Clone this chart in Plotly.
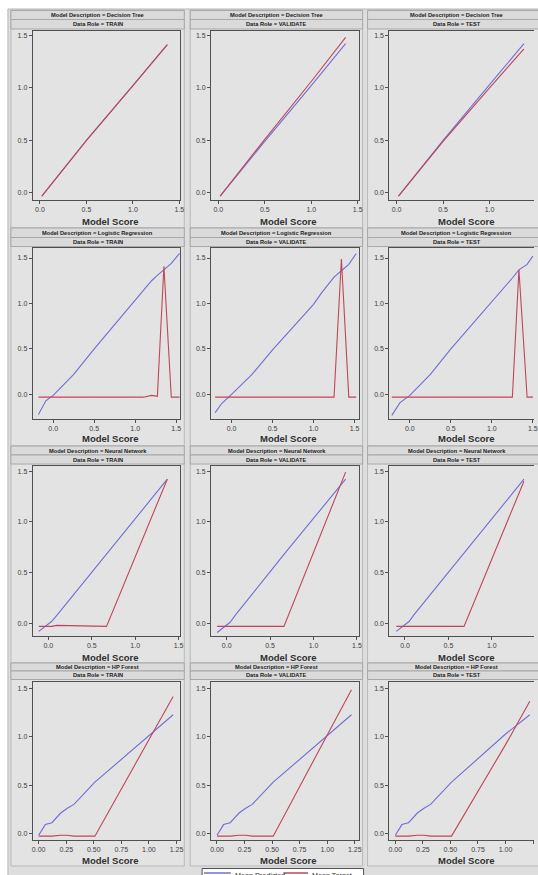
import plotly.graph_objects as go

W, H = 538, 875

models = ["Decision Tree", "Logistic Regression", "Neural Network", "HP Forest"]
roles = ["TRAIN", "VALIDATE", "TEST"]

# ---- Decision Tree ----
dt_train_score = [0.02, 0.50, 1.00, 1.37]
dt_train_pred = [-0.03, 0.50, 1.02, 1.41]
dt_train_target = [-0.03, 0.50, 1.02, 1.41]
dt_val_score = [0.02, 0.50, 1.00, 1.37]
dt_val_pred = [-0.03, 0.49, 1.02, 1.42]
dt_val_target = [-0.03, 0.51, 1.06, 1.48]
dt_test_score = [0.02, 0.50, 1.00, 1.37]
dt_test_pred = [-0.03, 0.50, 1.03, 1.42]
dt_test_target = [-0.03, 0.49, 1.00, 1.37]

# ---- Logistic Regression ----
lr_train_score = [-0.18, -0.09, 0.00, 0.25, 0.50, 0.75, 1.00, 1.10, 1.20, 1.27, 1.35, 1.44, 1.54]
lr_train_pred = [-0.22, -0.07, -0.01, 0.22, 0.50, 0.77, 1.03, 1.14, 1.25, 1.31, 1.37, 1.44, 1.55]
lr_train_target = [-0.03, -0.03, -0.03, -0.03, -0.03, -0.03, -0.03, -0.03, -0.01, -0.02, 1.41, -0.03, -0.03]
lr_val_score = [-0.20, -0.12, 0.00, 0.25, 0.50, 0.75, 1.00, 1.10, 1.20, 1.25, 1.34, 1.43, 1.52]
lr_val_pred = [-0.20, -0.10, 0.00, 0.22, 0.49, 0.74, 0.99, 1.12, 1.24, 1.29, 1.36, 1.43, 1.55]
lr_val_target = [-0.03, -0.03, -0.03, -0.03, -0.03, -0.03, -0.03, -0.03, -0.03, -0.03, 1.49, -0.03, -0.03]
lr_test_score = [-0.22, -0.12, 0.00, 0.25, 0.50, 0.75, 1.00, 1.10, 1.20, 1.25, 1.33, 1.43, 1.50]
lr_test_pred = [-0.23, -0.09, -0.01, 0.22, 0.50, 0.76, 1.01, 1.12, 1.23, 1.28, 1.37, 1.43, 1.52]
lr_test_target = [-0.03, -0.03, -0.03, -0.03, -0.03, -0.03, -0.03, -0.03, -0.03, -0.03, 1.37, -0.03, -0.03]

# ---- Neural Network ----
nn_train_score = [-0.11, 0.04, 0.10, 0.67, 1.37]
nn_train_pred = [-0.08, 0.02, 0.08, 0.68, 1.42]
nn_train_target = [-0.03, -0.03, -0.02, -0.03, 1.42]
nn_val_score = [-0.11, 0.04, 0.10, 0.66, 1.37]
nn_val_pred = [-0.09, 0.01, 0.08, 0.68, 1.42]
nn_val_target = [-0.03, -0.03, -0.03, -0.03, 1.49]
nn_test_score = [-0.10, 0.05, 0.10, 0.68, 1.37]
nn_test_pred = [-0.08, 0.02, 0.08, 0.69, 1.42]
nn_test_target = [-0.03, -0.03, -0.03, -0.03, 1.40]

# ---- HP Forest ----
hp_train_score = [0.00, 0.06, 0.12, 0.20, 0.26, 0.32, 0.51, 1.00, 1.22]
hp_train_pred = [-0.02, 0.09, 0.11, 0.21, 0.26, 0.30, 0.53, 1.02, 1.23]
hp_train_target = [-0.03, -0.03, -0.03, -0.02, -0.02, -0.03, -0.03, 0.97, 1.42]
hp_val_score = [0.00, 0.06, 0.12, 0.20, 0.26, 0.32, 0.51, 1.00, 1.22]
hp_val_pred = [-0.02, 0.09, 0.11, 0.21, 0.26, 0.30, 0.53, 1.02, 1.23]
hp_val_target = [-0.03, -0.03, -0.03, -0.02, -0.02, -0.03, -0.03, 1.02, 1.49]
hp_test_score = [0.00, 0.06, 0.12, 0.20, 0.26, 0.32, 0.51, 1.00, 1.22]
hp_test_pred = [-0.02, 0.09, 0.11, 0.21, 0.26, 0.30, 0.53, 1.03, 1.23]
hp_test_target = [-0.03, -0.03, -0.03, -0.02, -0.02, -0.03, -0.03, 0.92, 1.37]

y_ticks = [0.0, 0.5, 1.0, 1.5]
x_ticks_rows = [[0.0, 0.5, 1.0, 1.5], [0.0, 0.5, 1.0, 1.5], [0.0, 0.5, 1.0, 1.5],
                [0.0, 0.25, 0.5, 0.75, 1.0, 1.25]]
x_fmt_rows = [".1f", ".1f", ".1f", ".2f"]

series = {
    (0, 0): (dt_train_score, dt_train_pred, dt_train_target),
    (0, 1): (dt_val_score, dt_val_pred, dt_val_target),
    (0, 2): (dt_test_score, dt_test_pred, dt_test_target),
    (1, 0): (lr_train_score, lr_train_pred, lr_train_target),
    (1, 1): (lr_val_score, lr_val_pred, lr_val_target),
    (1, 2): (lr_test_score, lr_test_pred, lr_test_target),
    (2, 0): (nn_train_score, nn_train_pred, nn_train_target),
    (2, 1): (nn_val_score, nn_val_pred, nn_val_target),
    (2, 2): (nn_test_score, nn_test_pred, nn_test_target),
    (3, 0): (hp_train_score, hp_train_pred, hp_train_target),
    (3, 1): (hp_val_score, hp_val_pred, hp_val_target),
    (3, 2): (hp_test_score, hp_test_pred, hp_test_target),
}

BLUE = "#6e6ed6"
RED = "#bf4656"
FONT = "Liberation Sans, Arial, sans-serif"


def px(x):
    return x / W


def py(y):
    return 1 - y / H


# layout geometry (pixels)
col_plot = [(32, 181), (212, 361), (392, 538)]
row_plot = [(31, 200), (248, 419), (466, 636), (682, 840)]
x_range_rows = [[-0.078, 1.51], [-0.25, 1.55], [-0.18, 1.52], [-0.054, 1.285]]
y_range_rows = [[-0.067, 1.54], [-0.27, 1.61], [-0.125, 1.55], [-0.07, 1.57]]
col_cell = [(10, 185), (191, 365), (370, 545)]
hdr_center_x = [97.5, 278.5, 460]
row_cell = [(10, 228), (228, 446), (446, 663), (663, 866)]
hdr1 = [(10.5, 19.5), (228, 237.5), (446, 455), (663, 671)]
hdr2 = [(19.5, 29), (237.5, 246.5), (455, 464), (671, 679.5)]
title_y = [221, 438, 657, 860]
title_x = [111, 290, 470]

fig = go.Figure()
shapes = []
annotations = []

shapes.append(dict(type="rect", xref="paper", yref="paper", layer="below",
                   x0=px(7), x1=px(545), y0=py(9), y1=py(880),
                   fillcolor="#dedede", line=dict(color="#b5b5b5", width=1)))

layout_axes = {}
for r in range(4):
    for c in range(3):
        k = r * 3 + c + 1
        xs = "" if k == 1 else str(k)
        score, pred, target = series[(r, c)]
        fig.add_trace(go.Scatter(x=score, y=pred, mode="lines",
                                 line=dict(color=BLUE, width=1.1),
                                 xaxis="x" + xs, yaxis="y" + xs, showlegend=False,
                                 hoverinfo="skip"))
        fig.add_trace(go.Scatter(x=score, y=target, mode="lines",
                                 line=dict(color=RED, width=1.1),
                                 xaxis="x" + xs, yaxis="y" + xs, showlegend=False,
                                 hoverinfo="skip"))
        x0p, x1p = col_plot[c]
        y0p, y1p = row_plot[r]
        xr = list(x_range_rows[r])
        if c == 2:
            full_w = col_plot[0][1] - col_plot[0][0]
            xr[1] = xr[0] + (xr[1] - xr[0]) * (x1p - x0p) / full_w
        layout_axes["xaxis" + xs] = dict(
            domain=[px(x0p), px(x1p)], range=xr, anchor="y" + xs,
            showline=True, linecolor="#505050", linewidth=1, mirror=True,
            ticks="outside", ticklen=3, tickcolor="#505050",
            tickvals=x_ticks_rows[r], tickformat=x_fmt_rows[r],
            tickfont=dict(family=FONT, size=7, color="#404040"),
            showgrid=True, gridcolor="#e2e2e2", gridwidth=1, zeroline=False,
            fixedrange=True)
        layout_axes["yaxis" + xs] = dict(
            domain=[py(y1p), py(y0p)], range=y_range_rows[r], anchor="x" + xs,
            showline=True, linecolor="#505050", linewidth=1, mirror=(c != 2),
            ticks="outside", ticklen=3, tickcolor="#505050",
            tickvals=y_ticks, tickformat=".1f",
            tickfont=dict(family=FONT, size=7, color="#404040"),
            showgrid=True, gridcolor="#e2e2e2", gridwidth=1, zeroline=False,
            fixedrange=True)

        cx0, cx1 = col_cell[c]
        cy0, cy1 = row_cell[r]
        shapes.append(dict(type="rect", xref="paper", yref="paper", layer="below",
                           x0=px(cx0), x1=px(cx1), y0=py(cy1), y1=py(cy0),
                           fillcolor="#e3e3e3", line=dict(color="#b8b8b8", width=1)))
        for (h0, h1), txt in ((hdr1[r], "Model Description = " + models[r]),
                              (hdr2[r], "Data Role = " + roles[c])):
            shapes.append(dict(type="rect", xref="paper", yref="paper", layer="below",
                               x0=px(cx0), x1=px(cx1), y0=py(h1), y1=py(h0),
                               fillcolor="#dadada", line=dict(color="#a8a8a8", width=1)))
            annotations.append(dict(xref="paper", yref="paper",
                                    x=px(hdr_center_x[c]),
                                    y=py((h0 + h1) / 2), text="<b>" + txt + "</b>",
                                    showarrow=False, xanchor="center", yanchor="middle",
                                    font=dict(family=FONT, size=5.7, color="#202020")))
        annotations.append(dict(xref="paper", yref="paper", x=px(title_x[c]),
                                y=py(title_y[r]), text="<b>Model Score</b>",
                                showarrow=False, xanchor="center", yanchor="middle",
                                font=dict(family=FONT, size=9.5, color="#303030")))

# legend (drawn manually, partly cut off at page bottom like the reference)
shapes.append(dict(type="rect", xref="paper", yref="paper", layer="above",
                   x0=px(203), x1=px(366), y0=py(890), y1=py(868.5),
                   fillcolor="#ffffff", line=dict(color="#505050", width=1)))
shapes.append(dict(type="line", xref="paper", yref="paper", layer="above",
                   x0=px(205), x1=px(232), y0=py(873), y1=py(873),
                   line=dict(color=BLUE, width=1.5)))
shapes.append(dict(type="line", xref="paper", yref="paper", layer="above",
                   x0=px(285), x1=px(310), y0=py(873), y1=py(873),
                   line=dict(color=RED, width=1.5)))
annotations.append(dict(xref="paper", yref="paper", x=px(234), y=py(875),
                        text="Mean Predicted", showarrow=False, xanchor="left",
                        yanchor="middle", font=dict(family=FONT, size=7.2, color="#303030")))
annotations.append(dict(xref="paper", yref="paper", x=px(312), y=py(875),
                        text="Mean Target", showarrow=False, xanchor="left",
                        yanchor="middle", font=dict(family=FONT, size=7.2, color="#303030")))

fig.update_layout(
    width=W, height=H, autosize=False,
    margin=dict(l=0, r=0, t=0, b=0, pad=0),
    paper_bgcolor="#ffffff", plot_bgcolor="#f4f4f4",
    showlegend=False, shapes=shapes, annotations=annotations,
    font=dict(family=FONT),
    **layout_axes,
)

fig.write_html("out.html", config={"displayModeBar": False},
               post_script="document.body.style.margin='0';document.body.style.overflow='hidden';")
